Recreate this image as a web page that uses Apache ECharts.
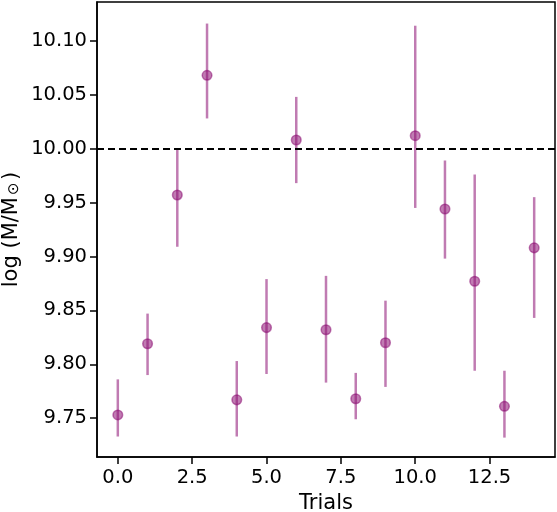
<!DOCTYPE html>
<html>
<head>
<meta charset="utf-8">
<script src="https://cdn.jsdelivr.net/npm/echarts@6/dist/echarts.min.js"></script>
<style>
  html, body { margin: 0; padding: 0; background: #fff; }
  #chart { width: 557px; height: 512px; }
</style>
</head>
<body>
<div id="chart"></div>
<script>
// trial number, best value, lower and upper end of the error bar
var trials = [0, 1, 2, 3, 4, 5, 6, 7, 8, 9, 10, 11, 12, 13, 14];
var logMass = [9.753, 9.819, 9.957, 10.068, 9.767, 9.834, 10.008, 9.832, 9.768, 9.820, 10.012, 9.944, 9.877, 9.761, 9.908];
var errLow = [9.733, 9.790, 9.909, 10.028, 9.733, 9.791, 9.968, 9.783, 9.749, 9.779, 9.945, 9.898, 9.794, 9.732, 9.843];
var errHigh = [9.786, 9.847, 10.000, 10.116, 9.803, 9.879, 10.048, 9.882, 9.792, 9.859, 10.114, 9.989, 9.976, 9.794, 9.955];
var xTicks = [0, 2.5, 5, 7.5, 10, 12.5];
var yTicks = [9.75, 9.80, 9.85, 9.90, 9.95, 10.00, 10.05, 10.10];
var refLine = 10.0;

var purple = 'rgba(140,15,115,0.55)';
var font = 'DejaVu Sans';

var data = [];
for (var i = 0; i < trials.length; i++) {
    data.push([trials[i], logMass[i], errLow[i], errHigh[i]]);
}

var chart = echarts.init(document.getElementById('chart'));
var option = {
    backgroundColor: '#fff',
    animation: false,
    grid: {
        left: 97, right: 2, top: 2, bottom: 55,
        outerBoundsMode: 'none',
        containLabel: false,
        show: true, borderColor: '#000', borderWidth: 1.5
    },
    xAxis: {
        type: 'value',
        min: -0.7, max: 14.7,
        name: 'Trials',
        nameLocation: 'middle',
        nameGap: 36,
        nameMoveOverlap: false,
        nameTextStyle: { fontFamily: font, fontSize: 21, color: '#000' },
        axisLine: { show: true, onZero: false, lineStyle: { color: '#000', width: 1.5 } },
        axisTick: { show: true, customValues: xTicks, length: 7, lineStyle: { color: '#000', width: 1.5 } },
        axisLabel: {
            customValues: xTicks, margin: 11,
            fontFamily: font, fontSize: 19.5, color: '#000',
            formatter: function (v) { return v.toFixed(1); }
        },
        splitLine: { show: false }
    },
    yAxis: {
        type: 'value',
        min: 9.714, max: 10.136,
        name: 'log (M/M{sub|⊙}{gap| })',
        nameLocation: 'middle',
        nameGap: 75,
        nameRotate: 90,
        nameMoveOverlap: false,
        nameTextStyle: {
            fontFamily: font, fontSize: 21, color: '#000',
            rich: {
                sub: { fontFamily: font, fontSize: 15, color: '#000', verticalAlign: 'bottom', lineHeight: 16, padding: [0, 0, 0, 2] },
                gap: { fontFamily: font, fontSize: 8, color: '#000' }
            }
        },
        axisLine: { show: true, onZero: false, lineStyle: { color: '#000', width: 1.5 } },
        axisTick: { show: true, customValues: yTicks, length: 7, lineStyle: { color: '#000', width: 1.5 } },
        axisLabel: {
            customValues: yTicks, margin: 10,
            fontFamily: font, fontSize: 19.5, color: '#000',
            formatter: function (v) { return v.toFixed(2); }
        },
        splitLine: { show: false }
    },
    series: [{
        type: 'custom',
        data: data,
        encode: { x: 0, y: [1, 2, 3] },
        renderItem: function (params, api) {
            var c = api.coord([api.value(0), api.value(1)]);
            var lo = api.coord([api.value(0), api.value(2)]);
            var hi = api.coord([api.value(0), api.value(3)]);
            return {
                type: 'group',
                children: [{
                    type: 'line',
                    shape: { x1: c[0], y1: lo[1], x2: c[0], y2: hi[1] },
                    style: { stroke: purple, lineWidth: 2.5 }
                }, {
                    type: 'circle',
                    shape: { cx: c[0], cy: c[1], r: 4.8 },
                    style: { fill: purple, stroke: purple, lineWidth: 1.5 }
                }]
            };
        },
        markLine: {
            silent: true,
            symbol: 'none',
            label: { show: false },
            lineStyle: { color: '#000', type: [7, 4], width: 2 },
            data: [{ yAxis: refLine }]
        }
    }]
};
chart.setOption(option);
</script>
</body>
</html>
